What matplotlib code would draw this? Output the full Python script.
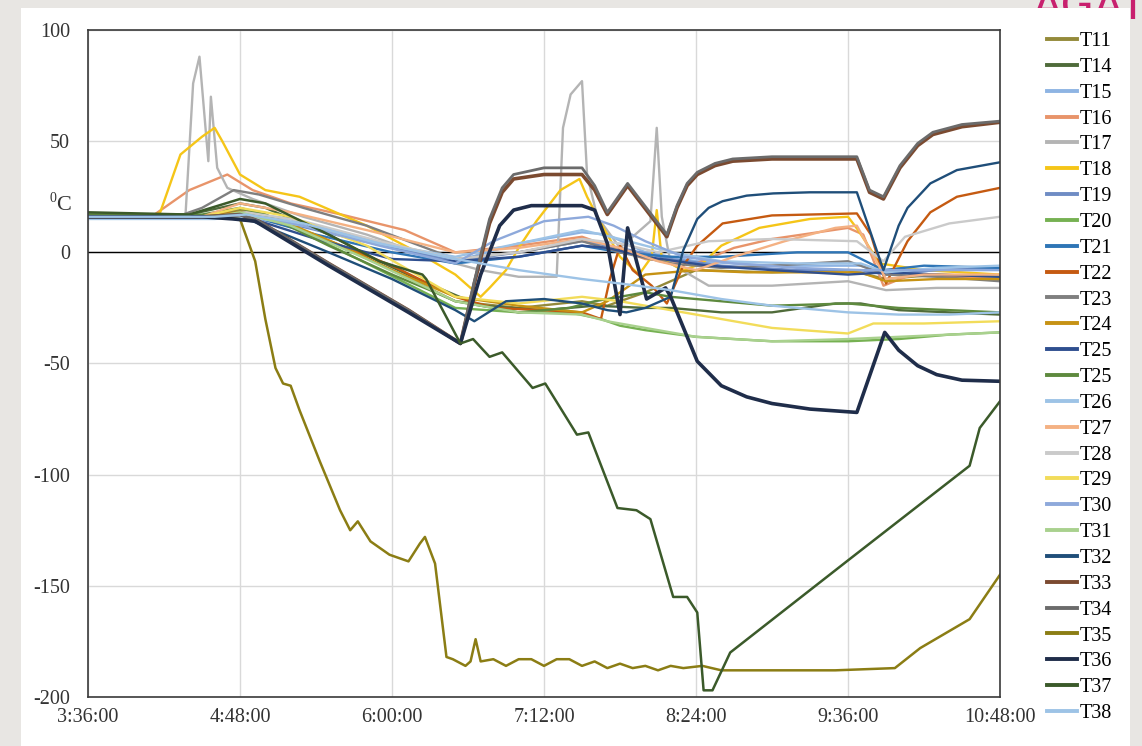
import matplotlib
matplotlib.use("Agg")
import matplotlib.pyplot as plt
from matplotlib.patches import Rectangle

plt.rcParams['font.family'] = ['Liberation Serif', 'DejaVu Serif']
plt.rcParams['axes.unicode_minus'] = False

# time axis (hours) and labels
x_ticks = [3.6, 4.8, 6.0, 7.2, 8.4, 9.6, 10.8]
x_labels = ['3:36:00', '4:48:00', '6:00:00', '7:12:00', '8:24:00', '9:36:00', '10:48:00']
y_ticks = [-200, -150, -100, -50, 0, 50, 100]

# series (hours, deg C)
t11 = [3.6, 4.5, 4.8, 5.0, 5.5, 6.0, 6.5, 7.0, 7.5, 7.7, 8.0, 8.4, 9.0, 9.6, 9.9, 10.3, 10.8]
v11 = [16, 16, 19, 17, 5, -8, -22, -25, -22, -24, -18, -8, -9, -8, -12, -10, -11]

t14 = [3.6, 4.4, 4.8, 5.0, 5.5, 5.9, 6.2, 6.7, 7.2, 7.6, 8.0, 8.2, 8.6, 9.0, 9.5, 9.7, 10.0, 10.4, 10.8]
v14 = [17, 17, 22, 20, 8, -4, -12, -24, -26, -24, -25, -25, -27, -27, -23, -23, -26, -27, -28]

t15 = [3.6, 4.6, 4.8, 5.2, 5.8, 6.5, 7.0, 7.5, 7.7, 8.0, 8.4, 9.0, 9.7, 9.9, 10.3, 10.8]
v15 = [16, 16, 18, 15, 6, -4, 4, 9, 8, 0, -4, -6, -6, -10, -8, -7]

t16 = [3.6, 4.1, 4.4, 4.7, 4.9, 5.2, 5.6, 6.1, 6.5, 7.0, 7.5, 7.7, 8.0, 8.4, 8.7, 9.0, 9.6, 9.72, 9.88, 10.1, 10.5, 10.8]
v16 = [16, 16, 28, 35, 28, 22, 17, 10, 0, 3, 7, 3, -3, -5, 2, 6, 11, 8, -15, -10, -11, -12]

t17 = [3.6, 4.37, 4.43, 4.48, 4.55, 4.57, 4.62, 4.7, 4.9, 5.3, 5.8, 6.3, 6.7, 7.0, 7.3, 7.35, 7.41, 7.5,
       7.54, 7.62, 7.8, 8.04, 8.09, 8.13, 8.2, 8.5, 9.0, 9.6, 9.9, 10.3, 10.8]
v17 = [16, 17, 76, 88, 41, 70, 38, 29, 24, 16, 8, -2, -8, -11, -11, 56, 71, 77,
       35, 16, 2, 14, 56, 16, -5, -15, -15, -13, -17, -16, -16]

t18 = [3.6, 4.1, 4.17, 4.33, 4.5, 4.6, 4.66, 4.8, 5.0, 5.27, 5.8, 6.2, 6.5, 6.7, 6.77, 6.9, 7.0, 7.14, 7.33,
       7.48, 7.54, 7.64, 7.8, 7.95, 8.05, 8.09, 8.13, 8.3, 8.45, 8.6, 8.9, 9.3, 9.6, 9.68, 9.85, 10.2, 10.8]
v18 = [16, 16, 18, 44, 52, 56, 50, 35, 28, 25, 12, 0, -10, -20, -16, -8, 2, 14, 28,
       33, 25, 14, -2, -10, -2, 19, -3, -8, -5, 3, 11, 15, 16, 10, -5, -8, -10]

t19 = [3.6, 4.7, 4.9, 5.4, 6.0, 6.5, 7.0, 7.5, 7.8, 8.2, 8.6, 9.2, 9.7, 9.9, 10.3, 10.8]
v19 = [16, 16, 17, 10, 2, -4, 0, 5, 2, -3, -6, -8, -8, -10, -8, -7]

t20 = [3.6, 4.6, 4.8, 5.2, 5.8, 6.5, 7.0, 7.4, 7.65, 7.8, 8.0, 8.4, 9.0, 9.6, 10.0, 10.4, 10.8]
v20 = [16, 16, 18, 12, -5, -25, -27, -27, -30, -33, -35, -38, -40, -40, -39, -37, -36]

t21 = [3.6, 4.7, 4.9, 5.4, 6.0, 6.5, 7.0, 7.5, 7.8, 8.2, 8.6, 9.2, 9.6, 9.88, 10.2, 10.8]
v21 = [16, 16, 16, 8, 0, -5, -2, 3, 0, -2, -2, 0, 0, -8, -6, -7]

t22 = [3.6, 4.5, 4.8, 5.2, 6.0, 6.5, 6.8, 7.2, 7.5, 7.65, 7.72, 7.8, 7.9, 8.05, 8.17, 8.3, 8.41, 8.61,
       9.0, 9.67, 9.78, 9.9, 10.07, 10.25, 10.46, 10.8]
v22 = [16, 16, 18, 12, -6, -20, -25, -26, -27, -30, -12, 3, -8, -15, -23, -6, 3, 13,
       16.6, 17.5, 8, -14, 5, 18, 25, 29]

t23 = [3.6, 4.3, 4.5, 4.75, 4.95, 5.3, 5.8, 6.5, 7.0, 7.5, 7.8, 8.2, 8.6, 9.0, 9.6, 9.9, 10.3, 10.8]
v23 = [16, 16, 20, 28, 26, 20, 12, -3, 0, 5, 0, -5, -7, -6, -4, -10, -11, -13]

t24 = [3.6, 4.5, 4.8, 5.1, 5.6, 6.0, 6.5, 7.0, 7.5, 7.7, 8.0, 8.4, 8.8, 9.4, 9.7, 9.9, 10.3, 10.8]
v24 = [16, 16, 18, 15, 3, -8, -20, -24, -27, -22, -10, -8, -9, -9, -9, -13, -12, -12]

t25a = [3.6, 4.7, 4.9, 5.4, 6.0, 6.5, 7.0, 7.5, 7.7, 8.0, 8.5, 9.0, 9.6, 9.9, 10.3, 10.8]
v25a = [16, 16, 15, 6, -3, -4, -2, 3, 2, -2, -6, -8, -10, -9, -10, -11]

t25b = [3.6, 4.5, 4.8, 5.0, 5.5, 6.0, 6.3, 6.5, 7.0, 7.4, 7.6, 7.8, 8.0, 8.2, 8.6, 9.0, 9.6, 10.0, 10.8]
v25b = [17, 17, 20, 17, 3, -10, -17, -22, -27, -25, -22, -20, -18, -20, -22, -24, -23, -25, -27]

t26 = [3.6, 4.6, 4.85, 5.3, 5.9, 6.5, 7.0, 7.5, 7.8, 8.2, 8.6, 9.2, 9.7, 9.9, 10.3, 10.8]
v26 = [15, 15, 16, 12, 4, -2, 4, 10, 6, 0, -4, -5, -5, -9, -7, -6]

t27 = [3.6, 4.5, 4.8, 5.2, 5.8, 6.5, 7.0, 7.5, 7.8, 8.1, 8.4, 8.7, 9.1, 9.5, 9.67, 9.9, 10.2, 10.8]
v27 = [16, 16, 22, 18, 10, 0, 2, 6, 2, -4, -8, -2, 5, 11, 12, -12, -10, -10]

t28 = [3.6, 4.6, 4.85, 5.3, 5.9, 6.5, 7.0, 7.5, 7.8, 8.1, 8.5, 9.0, 9.67, 9.88, 10.05, 10.4, 10.8]
v28 = [16, 16, 18, 14, 5, -3, 0, 6, 4, 0, 5, 6, 5, -4, 7, 13, 16]

t29 = [3.6, 4.5, 4.8, 5.2, 5.8, 6.5, 7.0, 7.5, 7.8, 8.2, 8.5, 9.0, 9.6, 9.8, 10.2, 10.8]
v29 = [16, 16, 20, 16, 3, -20, -23, -20, -22, -26, -29, -34, -36.5, -32, -32, -31]

t30 = [3.6, 4.6, 4.85, 5.3, 5.9, 6.5, 6.8, 7.2, 7.55, 7.75, 8.0, 8.3, 8.7, 9.2, 9.7, 9.9, 10.3, 10.8]
v30 = [16, 16, 17, 12, 3, -5, 5, 14, 16, 12, 5, -2, -5, -7, -8, -8, -8, -8]

t31 = [3.6, 4.6, 4.8, 5.2, 5.8, 6.5, 7.0, 7.5, 7.7, 8.0, 8.4, 9.0, 9.6, 10.0, 10.4, 10.8]
v31 = [16, 16, 18, 12, -3, -22, -27, -28, -31, -34, -38, -40, -39, -38, -37, -36]

t32 = [3.6, 4.6, 4.9, 5.5, 6.0, 6.5, 6.65, 6.9, 7.2, 7.5, 7.7, 7.85, 8.0, 8.2, 8.3, 8.41, 8.5, 8.61,
       8.8, 9.01, 9.3, 9.67, 9.88, 10.0, 10.07, 10.25, 10.46, 10.8]
v32 = [16, 16, 14, 0, -12, -26, -31, -22, -21, -23, -26, -27, -25, -20, 1, 15, 20, 23,
       25.5, 26.5, 27, 27, -8, 12, 20, 31, 37, 40.5]

t33 = [3.6, 4.5, 4.8, 4.95, 5.5, 6.13, 6.54, 6.65, 6.77, 6.87, 6.96, 7.2, 7.5, 7.6, 7.7, 7.86, 8.17,
       8.25, 8.33, 8.41, 8.55, 8.69, 9.0, 9.67, 9.77, 9.88, 10.01, 10.15, 10.27, 10.5, 10.8]
v33 = [16, 16, 17, 14, -5, -26, -41, -14, 13, 27, 33, 35, 35, 28, 17, 30, 7,
       20, 30, 35, 39, 41, 42, 42, 27, 24, 38, 48, 53, 56.5, 58.5]
v34 = [16, 16, 17, 14, -5, -26, -41, -13, 15, 29, 35, 38, 38, 30, 18, 31, 8,
       21, 31, 36, 40, 42, 43, 43, 28, 25, 39, 49, 54, 57.5, 59]

t35 = [3.6, 4.6, 4.8, 4.92, 5.0, 5.08, 5.14, 5.2, 5.27, 5.43, 5.59, 5.67, 5.73, 5.83, 5.98, 6.13, 6.22,
       6.26, 6.34, 6.43, 6.48, 6.58, 6.62, 6.66, 6.7, 6.8, 6.9, 7.0, 7.1, 7.2, 7.3, 7.4, 7.5, 7.6, 7.7,
       7.8, 7.9, 8.0, 8.1, 8.2, 8.3, 8.45, 8.6, 9.0, 9.5, 9.97, 10.17, 10.56, 10.8]
v35 = [16, 16, 15, -4, -30, -52, -59, -60, -71, -94, -116, -125, -121, -130, -136, -139, -131,
       -128, -140, -182, -183, -186, -184, -174, -184, -183, -186, -183, -183, -186, -183, -183, -186, -184, -187,
       -185, -187, -186, -188, -186, -187, -186, -188, -188, -188, -187, -178, -165, -145]

t36 = [3.6, 4.5, 4.75, 4.92, 5.5, 6.13, 6.54, 6.7, 6.85, 6.96, 7.1, 7.5, 7.6, 7.7, 7.8, 7.86, 8.01, 8.16,
       8.2, 8.41, 8.6, 8.8, 9.0, 9.3, 9.67, 9.89, 10.0, 10.15, 10.3, 10.5, 10.8]
v36 = [16, 16, 15, 14, -6, -27, -41, -10, 12, 19, 21, 21, 19, 4, -28, 11, -21, -16,
       -20, -49, -60, -65, -68, -70.5, -72, -36, -44, -51, -55, -57.5, -58]

t37 = [3.6, 4.4, 4.8, 5.0, 5.5, 5.9, 6.24, 6.27, 6.54, 6.64, 6.77, 6.87, 7.11, 7.21, 7.46, 7.55, 7.78,
       7.93, 8.04, 8.22, 8.33, 8.41, 8.46, 8.53, 8.67, 9.59, 10.56, 10.64, 10.8]
v37 = [18, 17, 24, 22, 8, -4, -10, -12, -41, -39, -47, -45, -61, -59, -82, -81, -115,
       -116, -120, -155, -155, -162, -197, -197, -180, -139, -96, -79, -67]

t38 = [3.6, 4.6, 4.85, 5.3, 5.9, 6.5, 7.0, 7.5, 7.8, 8.2, 8.6, 9.0, 9.6, 10.0, 10.4, 10.8]
v38 = [16, 16, 17, 13, 4, -3, -8, -12, -14, -17, -21, -24, -27, -28, -28, -27]

names = ['T11', 'T14', 'T15', 'T16', 'T17', 'T18', 'T19', 'T20', 'T21', 'T22', 'T23', 'T24', 'T25',
         'T25', 'T26', 'T27', 'T28', 'T29', 'T30', 'T31', 'T32', 'T33', 'T34', 'T35', 'T36', 'T37', 'T38']
times = [t11, t14, t15, t16, t17, t18, t19, t20, t21, t22, t23, t24, t25a,
         t25b, t26, t27, t28, t29, t30, t31, t32, t33, t33, t35, t36, t37, t38]
vals = [v11, v14, v15, v16, v17, v18, v19, v20, v21, v22, v23, v24, v25a,
        v25b, v26, v27, v28, v29, v30, v31, v32, v33, v34, v35, v36, v37, v38]
colors = ['#948a3a', '#4f6b3a', '#8eb4e3', '#e8946a', '#b4b4b4', '#f5c518', '#6f8cc4', '#76b152',
          '#2e75b6', '#c55a11', '#7f7f7f', '#c69214', '#2f4f8f', '#5e8a3e', '#9dc3e6', '#f4b183',
          '#cacaca', '#f2dc5a', '#8ea9db', '#a9d18e', '#1f4e79', '#7b4a30', '#6b6b6b', '#8b7d14',
          '#1f2d4a', '#3b5a2a', '#9dc3e6']
widths = [1.7] * 21 + [2.6, 2.0, 1.8, 2.6, 1.8, 1.7]

fig = plt.figure(figsize=(11.42, 7.46), dpi=100)
fig.patch.set_facecolor('#e8e6e3')
W, H = 1142, 746

# pink title fragment, mostly hidden behind the white slide area
fig.text(1147 / W, 1 - 20 / H, 'AGAT', color='#c8206e', fontsize=31, family='DejaVu Sans',
         va='baseline', ha='right', zorder=-3)
fig.patches.append(Rectangle((21 / W, 0), (1130 - 21) / W, 1 - 8 / H, transform=fig.transFigure,
                             facecolor='white', edgecolor='none', zorder=-2))

ax = fig.add_axes([88 / W, 1 - 697 / H, (1000 - 88) / W, (697 - 30) / H])
ax.set_facecolor('white')

for t, v, c, lw, n in zip(times, vals, colors, widths, names):
    ax.plot(t, v, color=c, lw=lw, label=n, solid_joinstyle='round')

ax.axhline(0, color='black', lw=1.0, zorder=1.5)
ax.set_xlim(3.6, 10.8)
ax.set_ylim(-200, 100)
ax.set_xticks(x_ticks)
ax.set_xticklabels(x_labels)
ax.set_yticks(y_ticks)
ax.grid(color='#d9d9d9', lw=1)
ax.set_axisbelow(True)
ax.tick_params(length=0, labelsize=14.5, colors='#333333')
ax.tick_params(axis='y', pad=13)
ax.tick_params(axis='x', pad=8)
for s in ax.spines.values():
    s.set_color('#3a3a3a')
    s.set_linewidth(1.2)

fig.text(50 / W, 1 - 199 / H, '0', fontsize=10, color='#333333', va='center')
fig.text(56 / W, 1 - 206 / H, 'C', fontsize=16, color='#333333', va='center')

leg = ax.legend(loc='upper left', bbox_to_anchor=(1047 / W, 1 - 32 / H), bbox_transform=fig.transFigure,
                frameon=False, fontsize=14.5, handlelength=1.5, handletextpad=0.1,
                labelspacing=0.335, borderaxespad=0, borderpad=0)
for line in leg.get_lines():
    line.set_linewidth(2.8)

fig.savefig('out.png', dpi=100)
